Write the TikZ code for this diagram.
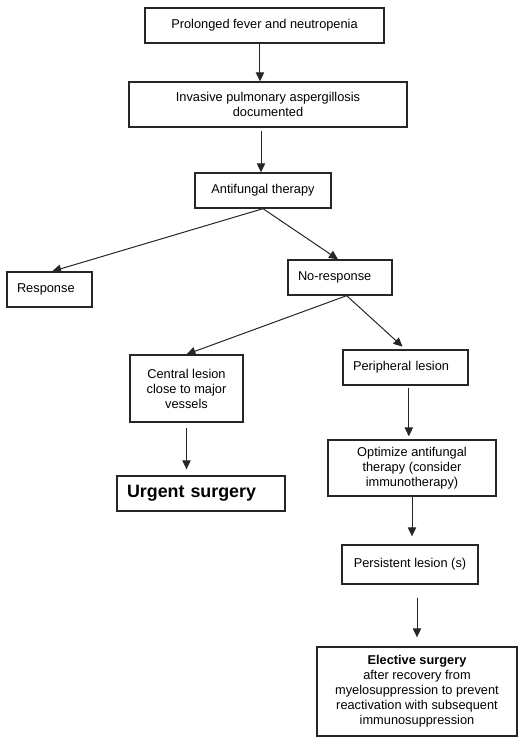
\documentclass[tikz,border=0pt]{standalone}
\usepackage{fontspec}
\setmainfont{Liberation Sans}
\usetikzlibrary{arrows.meta}

\begin{document}
\begin{tikzpicture}[x=0.75pt, y=-0.75pt, every node/.style={rectangle, draw=black!85, line width=1pt, inner xsep=7.5pt, inner ysep=3pt, align=center, font=\fontsize{9.6}{11.2}\selectfont}, >={Triangle[length=6.75pt, width=6.25pt]}, ->, line width=0.75pt, draw=black!85]
		\tikzstyle{lefttext} = [align=left]
		\tikzstyle{oneline} = [minimum height=26.25pt]
		\tikzstyle{bigbold} = [font=\fontsize{13.4}{15}\selectfont\bfseries]
		
		\useasboundingbox (0,0) rectangle (520,744);
		
		\node[oneline, minimum width=179.25pt] (fever) at (264.5,25.5) {Prolonged fever and neutropenia};
		\node[minimum width=208.5pt, minimum height=33.75pt] (invasive) at (268,104.5) {Invasive pulmonary aspergillosis\\documented};
		\node[oneline, minimum width=102pt] (therapy) at (263,190.5) {Antifungal therapy};
		\node[oneline, lefttext, text width=48.75pt] (response) at (49.5,289.5) {Response};
		\node[oneline, lefttext, text width=63pt] (noresponse) at (340,277.5) {No-response};
		\node[minimum width=84.75pt, minimum height=50.25pt] (central) at (186.5,388.5) {Central lesion\\close to major\\vessels};
		\node[oneline, lefttext, text width=78.75pt] (peripheral) at (405.5,367.5) {Peripheral lesion};
		\node[oneline, lefttext, bigbold, text width=111pt] (urgent) at (201,493.5) {Urgent surgery};
		\node[minimum width=126pt, minimum height=42pt] (optimize) at (412,468) {Optimize antifungal\\therapy (consider\\immunotherapy)};
		\node[minimum width=102pt, minimum height=29.25pt] (persistent) at (410,564.5) {Persistent lesion (s)};
		\node[minimum width=150pt, minimum height=66.75pt] (elective) at (417,691.5) {\textbf{Elective surgery}\\after recovery from\\myelosuppression to prevent\\reactivation with subsequent\\immunosuppression};
		
		\draw ([xshift=-3.4pt]fever.south) -- ([xshift=-3.4pt]fever.south |- invasive.north);
		\draw[shorten <=2.25pt] ([xshift=-5.25pt]invasive.south) -- ([xshift=-5.25pt]invasive.south |- therapy.north);
		\draw (therapy.south) -- ([xshift=2pt]response.north);
		\draw (therapy.south) -- ([xshift=-1.5pt]noresponse.north);
		\draw ([xshift=5pt]noresponse.south) -- (central.north);
		\draw[shorten >=3pt] ([xshift=5pt]noresponse.south) -- (peripheral.north);
		\draw[shorten <=4pt, shorten >=4.5pt] (central.south) -- (central.south |- urgent.north);
		\draw[shorten <=1.5pt, shorten >=2.25pt] ([xshift=2.5pt]peripheral.south) -- ([xshift=2.5pt]peripheral.south |- optimize.north);
		\draw[shorten >=6pt] (optimize.south) -- (optimize.south |- persistent.north);
		\draw[shorten <=9.75pt, shorten >=6.75pt] (persistent.south -| elective.north) -- (elective.north);
	\end{tikzpicture}
\end{document}
